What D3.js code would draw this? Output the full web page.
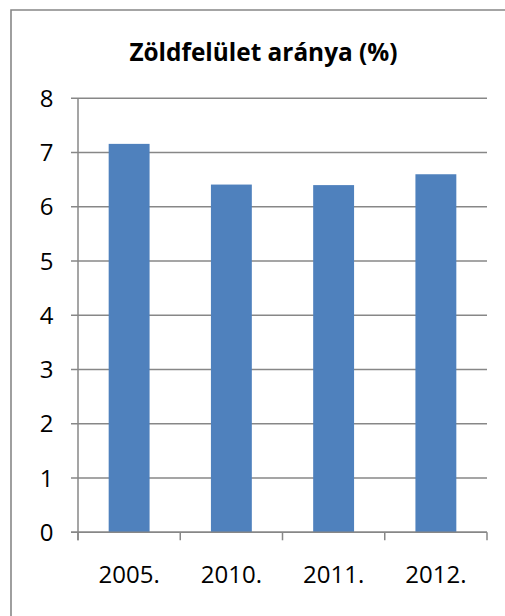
<!DOCTYPE html>
<html><head><meta charset="utf-8">
<script src="https://cdn.jsdelivr.net/npm/d3@7"></script>
<style>html,body{margin:0;padding:0;background:#fff;}svg{display:block;}</style>
</head><body>
<script>
const categories = ["2005.", "2010.", "2011.", "2012."];
const values = [7.16, 6.41, 6.40, 6.60];
const yTicks = [0, 1, 2, 3, 4, 5, 6, 7, 8];
const title = "Zöldfelület aránya (%)";

(function () {
const W = 505, H = 616;
const svg = d3.select("body").append("svg").attr("width", W).attr("height", H);
const font = "'Open Sans', 'Liberation Sans', sans-serif";
const gray = "#878787";

// outer border (extends past right/bottom edges)
svg.append("path").attr("d", `M11,${H+5} L11,10 L${W+5},10`)
  .attr("fill", "none").attr("stroke", gray).attr("stroke-width", 1.6);

const pLeft = 78, pRight = 487, pTop = 98.3, pBottom = 532.3;
const x = d3.scaleBand().domain(categories).range([pLeft, pRight]).paddingInner(0.6).paddingOuter(0.3);
const y = d3.scaleLinear().domain([0, 8]).range([pBottom, pTop]);

// gridlines + y ticks
svg.append("g").selectAll("line").data(yTicks).join("line")
  .attr("x1", pLeft - 7).attr("x2", pRight)
  .attr("y1", d => y(d)).attr("y2", d => y(d))
  .attr("stroke", gray).attr("stroke-width", 1.5);

// y axis line
svg.append("line").attr("x1", pLeft).attr("x2", pLeft).attr("y1", y(8)).attr("y2", y(0) + 8)
  .attr("stroke", gray).attr("stroke-width", 1.5);

// y labels
svg.append("g").selectAll("text").data(yTicks).join("text")
  .attr("x", 53.5).attr("y", d => y(d)).attr("dy", "0.36em")
  .attr("text-anchor", "end").attr("font-family", font).attr("font-size", 24)
  .attr("fill", "#000").text(d => d);

// bars
svg.append("g").selectAll("rect").data(values).join("rect")
  .attr("x", (d, i) => x(categories[i])).attr("width", x.bandwidth())
  .attr("y", d => y(d)).attr("height", d => y(0) - y(d))
  .attr("fill", "#4f81bd");

// x category boundary ticks
const bounds = categories.map(c => x(c) - x.step() * x.paddingOuter()).concat([pRight]);
svg.append("g").selectAll("line").data(bounds).join("line")
  .attr("x1", d => d).attr("x2", d => d).attr("y1", y(0)).attr("y2", y(0) + 8)
  .attr("stroke", gray).attr("stroke-width", 1.5);
// x axis line
svg.append("line").attr("x1", pLeft - 7).attr("x2", pRight).attr("y1", y(0)).attr("y2", y(0))
  .attr("stroke", gray).attr("stroke-width", 1.5);

// x labels
svg.append("g").selectAll("text").data(categories).join("text")
  .attr("x", d => x(d) + x.bandwidth() / 2).attr("y", 583.3)
  .attr("text-anchor", "middle").attr("font-family", font).attr("font-size", 24)
  .attr("fill", "#000").text(d => d);

// title
svg.append("text").attr("x", 263.5).attr("y", 60.7).attr("text-anchor", "middle")
  .attr("font-family", font).attr("font-weight", "bold").attr("font-size", 24.4)
  .attr("fill", "#000").text(title);
})();
</script>
</body></html>
